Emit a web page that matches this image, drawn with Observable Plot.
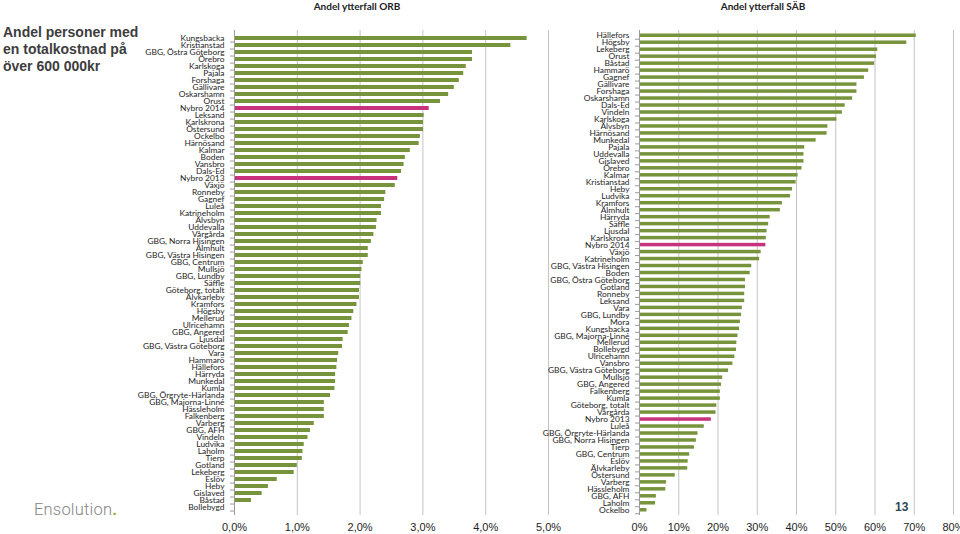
<!DOCTYPE html>
<html><head><meta charset="utf-8">
<script src="https://cdn.jsdelivr.net/npm/d3@7"></script>
<script src="https://cdn.jsdelivr.net/npm/@observablehq/plot@0.6"></script>
<style>
body{margin:0;background:#fff;}
#page{position:relative;width:960px;height:534px;overflow:hidden;font-family:"Liberation Sans",Arial,sans-serif;}
.abs{position:absolute;}
.ctitle{font-family:Lato,sans-serif;font-weight:bold;font-size:10px;color:#222;text-align:center;width:200px;}
</style></head><body>
<div id="page">
  <div class="abs" style="left:3px;top:24px;white-space:nowrap;font-weight:bold;font-size:14px;line-height:17px;color:#3d3d3d;">Andel personer med<br>en totalkostnad på<br>över 600 000kr</div>
  <div class="abs ctitle" style="left:257px;top:0px;">Andel ytterfall ORB</div>
  <div class="abs ctitle" style="left:663px;top:0px;">Andel ytterfall SÄB</div>
  <div id="left" class="abs" style="left:140px;top:0;"></div>
  <div id="right" class="abs" style="left:555px;top:0;"></div>
  <div class="abs" style="left:34px;top:500px;font-family:Roboto,sans-serif;font-weight:300;font-size:16.5px;color:#858585;letter-spacing:0.2px;">Ensolution<span style="color:#9aab3a;font-weight:bold;">.</span></div>
  <div class="abs" style="left:895px;top:500px;font-weight:bold;font-size:12px;color:#2f4858;">13</div>
</div>
<script>
const highlight = ["Nybro 2014", "Nybro 2013"];

const leftCats = ["Kungsbacka","Kristianstad","GBG, Östra Göteborg","Örebro","Karlskoga","Pajala","Forshaga","Gällivare","Oskarshamn","Orust","Nybro 2014","Leksand","Karlskrona","Östersund","Ockelbo","Härnösand","Kalmar","Boden","Vansbro","Dals-Ed","Nybro 2013","Växjö","Ronneby","Gagnef","Luleå","Katrineholm","Älvsbyn","Uddevalla","Vårgårda","GBG, Norra Hisingen","Älmhult","GBG, Västra Hisingen","GBG, Centrum","Mullsjö","GBG, Lundby","Säffle","Göteborg, totalt","Älvkarleby","Kramfors","Högsby","Mellerud","Ulricehamn","GBG, Angered","Ljusdal","GBG, Västra Göteborg","Vara","Hammarö","Hällefors","Härryda","Munkedal","Kumla","GBG, Örgryte-Härlanda","GBG, Majorna-Linné","Hässleholm","Falkenberg","Varberg","GBG, AFH","Vindeln","Ludvika","Laholm","Tierp","Gotland","Lekeberg","Eslöv","Heby","Gislaved","Båstad","Bollebygd"];
const leftVals = [4.66,4.40,3.79,3.79,3.69,3.65,3.58,3.50,3.41,3.28,3.10,3.02,3.01,3.01,2.96,2.94,2.80,2.72,2.70,2.66,2.60,2.56,2.41,2.39,2.34,2.34,2.27,2.26,2.22,2.18,2.13,2.13,2.05,2.03,2.01,2.01,1.99,1.99,1.95,1.90,1.87,1.83,1.81,1.73,1.72,1.66,1.64,1.63,1.61,1.61,1.60,1.53,1.43,1.43,1.43,1.27,1.21,1.17,1.11,1.09,1.08,1.00,0.95,0.68,0.54,0.44,0.27,0];
const leftTicks = [0,1,2,3,4,5];

const rightCats = ["Hällefors","Högsby","Lekeberg","Orust","Båstad","Hammarö","Gagnef","Gällivare","Forshaga","Oskarshamn","Dals-Ed","Vindeln","Karlskoga","Älvsbyn","Härnösand","Munkedal","Pajala","Uddevalla","Gislaved","Örebro","Kalmar","Kristianstad","Heby","Ludvika","Kramfors","Älmhult","Härryda","Säffle","Ljusdal","Karlskrona","Nybro 2014","Växjö","Katrineholm","GBG, Västra Hisingen","Boden","GBG, Östra Göteborg","Gotland","Ronneby","Leksand","Vara","GBG, Lundby","Mora","Kungsbacka","GBG, Majorna-Linné","Mellerud","Bollebygd","Ulricehamn","Vansbro","GBG, Västra Göteborg","Mullsjö","GBG, Angered","Falkenberg","Kumla","Göteborg, totalt","Vårgårda","Nybro 2013","Luleå","GBG, Örgryte-Härlanda","GBG, Norra Hisingen","Tierp","GBG, Centrum","Eslöv","Älvkarleby","Östersund","Varberg","Hässleholm","GBG, AFH","Laholm","Ockelbo"];
const rightVals = [70.5,68.1,60.7,60.4,59.9,58.4,57.3,55.4,55.4,54.3,52.4,51.7,50.3,48.0,47.8,45.0,42.1,41.9,41.9,41.4,40.4,39.9,39.0,38.5,36.4,35.9,33.3,32.9,32.5,32.3,32.2,31.0,30.6,28.6,28.2,27.0,27.0,26.8,26.8,26.2,26.0,25.7,25.5,25.1,24.8,24.7,24.3,23.8,22.7,21.2,20.9,20.6,20.6,19.7,19.5,18.3,16.5,14.9,14.5,14.0,12.8,12.4,12.3,9.1,6.9,6.7,4.3,4.1,1.9];
const rightTicks = [0,10,20,30,40,50,60,70,80];

const GREEN = "#77933c", PINK = "#c8317b", GRID = "#c4c4c4", AXIS = "#9a9a9a";

function chart({cats, vals, ticks, fmt, width, ml, mr}) {
  const data = cats.map((c, i) => ({name: c, value: vals[i], color: highlight.includes(c) ? PINK : GREEN}));
  const mt = 30, mb = 19, H = 534;
  const step = (H - mt - mb) / (cats.length + 0.5);
  return Plot.plot({
    width, height: H, marginLeft: ml, marginRight: mr, marginTop: mt, marginBottom: mb,
    style: {fontFamily: "Lato,sans-serif", fontSize: "8.4px", color: "#1e1e1e", overflow: "visible", background: "transparent"},
    x: {domain: [ticks[0], ticks[ticks.length - 1]], label: null},
    y: {domain: cats, padding: 0.5, label: null},
    color: {type: "identity"},
    marks: [
      Plot.gridX(ticks, {stroke: GRID, strokeOpacity: 1}),
      Plot.barX(data, {x: "value", y: "name", fill: "color"}),
      Plot.ruleX([0], {stroke: AXIS}),
      Plot.axisY({tickSize: 0, tickPadding: 10}),
      Plot.axisY({tickSize: 4, tickFormat: () => "", stroke: AXIS, dy: step / 2}),
      Plot.axisX(ticks, {tickSize: 0, tickPadding: 8, tickFormat: fmt, fontSize: 11, fontFamily: "'Liberation Sans',Arial,sans-serif", fill: "#1e1e1e"})
    ]
  });
}

document.getElementById("left").append(chart({
  cats: leftCats, vals: leftVals, ticks: leftTicks,
  fmt: d => d.toFixed(1).replace(".", ",") + "%",
  width: 420, ml: 94, mr: 12
}));
document.getElementById("right").append(chart({
  cats: rightCats, vals: rightVals, ticks: rightTicks,
  fmt: d => d + "%",
  width: 405, ml: 84, mr: 7
}));
</script>
</body></html>
